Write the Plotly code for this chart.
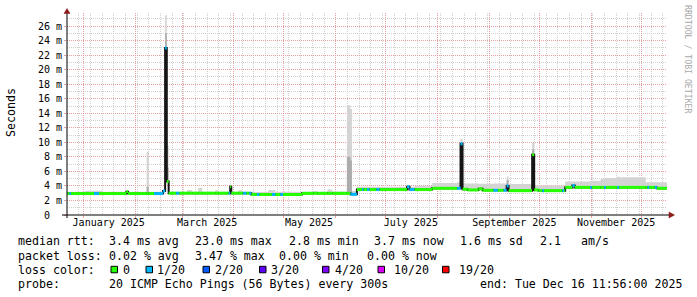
import plotly.graph_objects as go

# ---------------- data ----------------
times = [
    "2024-12-22 00:00", "2024-12-23 12:00", "2024-12-24 10:00", "2025-01-01 19:00",
    "2025-01-07 05:00", "2025-01-10 05:00", "2025-01-12 14:00", "2025-01-26 14:00",
    "2025-01-27 14:00", "2025-02-07 17:00", "2025-02-09 00:00", "2025-02-12 05:00",
    "2025-02-17 14:00", "2025-02-18 19:00", "2025-02-19 19:00", "2025-02-20 22:00",
    "2025-02-25 10:00", "2025-02-27 05:00", "2025-03-04 00:00", "2025-03-07 00:00",
    "2025-03-10 14:00", "2025-03-13 00:00", "2025-03-20 19:00", "2025-03-22 14:00",
    "2025-03-28 22:00", "2025-03-29 19:00", "2025-03-30 10:00", "2025-04-03 14:00",
    "2025-04-06 00:00", "2025-04-06 14:00", "2025-04-08 10:00", "2025-04-10 05:00",
    "2025-04-11 10:00", "2025-04-14 19:00", "2025-04-16 05:00", "2025-04-21 14:00",
    "2025-04-23 19:00", "2025-04-25 19:00", "2025-04-28 19:00", "2025-04-30 10:00",
    "2025-05-11 19:00", "2025-05-18 14:00", "2025-05-21 00:00", "2025-05-27 00:00",
    "2025-05-30 00:00", "2025-06-07 17:00", "2025-06-09 19:00", "2025-06-10 17:00",
    "2025-06-13 17:00", "2025-06-16 19:00", "2025-06-17 14:00", "2025-06-19 19:00",
    "2025-06-21 05:00", "2025-06-25 10:00", "2025-06-27 05:00", "2025-07-13 19:00",
    "2025-07-15 05:00", "2025-07-18 05:00", "2025-07-28 19:00", "2025-08-12 19:00",
    "2025-08-14 19:00", "2025-08-16 00:00", "2025-08-19 00:00", "2025-08-25 14:00",
    "2025-08-28 00:00", "2025-09-03 14:00", "2025-09-06 00:00", "2025-09-09 14:00",
    "2025-09-11 10:00", "2025-09-12 14:00", "2025-09-26 17:00", "2025-09-27 22:00",
    "2025-09-30 14:00", "2025-10-02 19:00", "2025-10-03 19:00", "2025-10-14 19:00",
    "2025-10-15 19:00", "2025-10-16 12:00", "2025-10-20 19:00", "2025-10-22 05:00",
    "2025-10-31 10:00", "2025-11-01 10:00", "2025-11-06 19:00", "2025-11-08 19:00",
    "2025-11-09 19:00", "2025-11-16 19:00", "2025-11-17 19:00", "2025-12-03 19:00",
    "2025-12-04 19:00", "2025-12-05 19:00", "2025-12-09 05:00", "2025-12-10 10:00",
]
median_ms = [
    2.95, 2.95, 2.95, 2.95, 2.95, 2.95, 2.95, 3.2,
    2.95, 2.95, 2.95, 2.95, 3.3, 23.0, 4.6, 3.0,
    3.0, 3.0, 3.0, 3.0, 3.0, 3.0, 3.0, 3.0,
    3.0, 3.9, 3.0, 3.0, 3.0, 3.0, 3.0, 3.0,
    2.82, 2.82, 2.82, 2.82, 2.82, 2.82, 2.82, 2.82,
    2.98, 2.98, 2.98, 2.98, 2.98, 2.98, 2.85, 2.85,
    3.5, 3.5, 3.5, 3.5, 3.5, 3.5, 3.5, 3.9,
    3.5, 3.5, 3.67, 3.67, 9.8, 3.55, 3.45, 3.6,
    3.4, 3.4, 3.4, 3.4, 4.0, 3.35, 8.3, 3.45,
    3.35, 3.35, 3.35, 3.35, 3.35, 3.8, 4.05, 3.8,
    3.8, 3.8, 3.8, 3.8, 3.8, 3.8, 3.8, 3.8,
    3.8, 3.8, 3.8, 3.67,
]
loss_idx = [
    0, 1, 0, 0, 1, 0, 0, 0,
    0, 0, 0, 1, 1, 1, 0, 0,
    1, 0, 0, 0, 0, 0, 0, 0,
    1, 0, 0, 0, 0, 1, 0, 1,
    0, 1, 0, 0, 1, 0, 1, 0,
    0, 0, 0, 0, 0, 0, 1, 1,
    0, 1, 0, 1, 0, 1, 0, 1,
    1, 0, 0, 1, 1, 0, 0, 0,
    0, 1, 0, 1, 1, 0, 0, 0,
    0, 1, 0, 1, 0, 0, 1, 0,
    1, 0, 0, 1, 0, 1, 0, 0,
    1, 0, 1, 0,
]
smoke_hi_ms = [
    3.2, 3.2, 3.2, 3.35, 3.35, 3.35, 3.2, 3.3,
    3.2, 8.7, 3.2, 3.2, 3.5, 27.5, 9.6, 3.2,
    3.2, 3.2, 3.45, 3.2, 3.7, 3.2, 3.4, 3.2,
    3.2, 4.1, 3.2, 3.4, 3.2, 3.2, 3.2, 3.2,
    3.15, 3.15, 3.15, 3.45, 3.45, 3.2, 3.2, 3.2,
    3.2, 3.3, 3.2, 3.5, 3.25, 15.1, 14.6, 3.3,
    3.9, 3.9, 3.9, 3.9, 3.9, 3.9, 3.9, 4.1,
    3.9, 4.0, 4.4, 4.5, 10.5, 4.35, 4.35, 4.3,
    4.3, 4.35, 4.35, 4.35, 5.3, 4.25, 9.9, 4.1,
    4.05, 4.05, 4.05, 4.05, 4.05, 4.6, 4.6, 4.6,
    4.7, 4.7, 5.0, 5.0, 5.1, 5.3, 5.2, 4.5,
    4.5, 4.5, 4.5, 4.5,
]
smoke_mid_ms = [
    2.95, 2.95, 2.95, 2.95, 2.95, 2.95, 2.95, 3.2,
    2.95, 3.9, 2.95, 2.95, 3.3, 25.0, 6.5, 3.0,
    3.0, 3.0, 3.0, 3.0, 3.0, 3.0, 3.0, 3.0,
    3.0, 3.9, 3.0, 3.0, 3.0, 3.0, 3.0, 3.0,
    2.82, 2.82, 2.82, 2.82, 2.82, 2.82, 2.82, 2.82,
    2.98, 2.98, 2.98, 2.98, 2.98, 8.0, 7.5, 2.85,
    3.5, 3.5, 3.5, 3.5, 3.5, 3.5, 3.5, 3.9,
    3.5, 3.5, 3.67, 3.67, 9.8, 3.55, 3.45, 3.6,
    3.4, 3.4, 3.4, 3.4, 4.8, 3.35, 9.0, 3.45,
    3.35, 3.35, 3.35, 3.35, 3.35, 3.8, 4.05, 3.8,
    3.8, 3.8, 3.8, 3.8, 3.8, 3.8, 3.8, 3.8,
    3.8, 3.8, 3.8, 3.67,
]
range_start = "2024-12-22 00:00"
end_time = "2025-12-16 11:56"

loss_labels = ["0", "1/20", "2/20", "3/20", "4/20", "10/20", "19/20"]
loss_colors = ["#26ff00", "#00b8ff", "#0059ff", "#5e00ff", "#7e00ff", "#dd00ff", "#ff0000"]

y_tickvals = [0, 2, 4, 6, 8, 10, 12, 14, 16, 18, 20, 22, 24, 26]
y_ticktext = ["0\u00a0\u00a0", "2 m", "4 m", "6 m", "8 m", "10 m", "12 m", "14 m",
              "16 m", "18 m", "20 m", "22 m", "24 m", "26 m"]
x_label_dates = ["2025-01-16", "2025-03-16", "2025-05-16", "2025-07-16", "2025-09-16", "2025-11-16"]
x_label_text = ["January 2025", "March 2025", "May 2025", "July 2025", "September 2025", "November 2025"]

rtt_stats = ["3.4 ms avg", "23.0 ms max", "2.8 ms min", "3.7 ms now", "1.6 ms sd", "2.1", "am/s"]
loss_stats = ["0.02 % avg", "3.47 % max", "0.00 % min", "0.00 % now"]
probe_text = "20 ICMP Echo Pings (56 Bytes) every 300s"
end_text = "end: Tue Dec 16 11:56:00 2025"

# ---------------- styling / layout helpers ----------------
W, H = 697, 297
L, R, T, B = 67, 30, 13, 82
PW, PH = W - L - R, H - T - B
MONO = "DejaVu Sans Mono"
GRID_MAJOR = "#eaa0a0"
GRID_MINOR = "#d0d0d0"
ARROW = "#8b1a1a"


def px(xp):
    return (xp - L) / PW


def py(yp):
    return (T + PH - yp) / PH


xs = times + [end_time]


def ext(vals):
    return list(vals) + [vals[-1]]


fig = go.Figure()
step = dict(width=0, shape="hv")
# smoke (light outer band)
fig.add_trace(go.Scatter(x=xs, y=ext(median_ms), mode="lines", line=step, hoverinfo="skip"))
fig.add_trace(go.Scatter(x=xs, y=ext(smoke_hi_ms), mode="lines", line=step, fill="tonexty",
                         fillcolor="#d4d4d4", hoverinfo="skip"))
# smoke (darker inner band)
fig.add_trace(go.Scatter(x=xs, y=ext(median_ms), mode="lines", line=step, hoverinfo="skip"))
fig.add_trace(go.Scatter(x=xs, y=ext(smoke_mid_ms), mode="lines", line=step, fill="tonexty",
                         fillcolor="#acacac", hoverinfo="skip"))
# black median connector line
fig.add_trace(go.Scatter(x=xs, y=ext(median_ms), mode="lines",
                         line=dict(color="#151515", width=2, shape="hv"), hoverinfo="skip"))
# coloured median segments by loss
for k, col in enumerate(loss_colors):
    sx, sy = [], []
    for i in range(len(times)):
        if loss_idx[i] == k:
            sx += [xs[i], xs[i + 1], None]
            sy += [median_ms[i], median_ms[i], None]
    if sx:
        fig.add_trace(go.Scatter(x=sx, y=sy, mode="lines", line=dict(color=col, width=3),
                                 hoverinfo="skip"))
# dummy trace for the label axis
fig.add_trace(go.Scatter(x=xs, y=ext(median_ms), xaxis="x2", mode="lines",
                         line=dict(width=0), opacity=0, hoverinfo="skip"))

fig.update_layout(
    width=W, height=H, margin=dict(l=L, r=R, t=T, b=B),
    paper_bgcolor="white", plot_bgcolor="white", showlegend=False,
    font=dict(family=MONO, size=10, color="black"),
    xaxis=dict(type="date", range=[range_start, end_time], tickmode="linear",
               dtick="M1", tick0="2025-01-01", showticklabels=False,
               showgrid=True, gridcolor=GRID_MAJOR, griddash="1px,1px", gridwidth=1,
               ticks="outside", ticklen=2, tickcolor=GRID_MAJOR,
               zeroline=False, showline=False,
               minor=dict(tickmode="linear", dtick=7 * 86400000, tick0="2024-12-22",
                          showgrid=True, gridcolor=GRID_MINOR, griddash="1px,1px",
                          ticks="")),
    xaxis2=dict(type="date", range=[range_start, end_time], overlaying="x", anchor="y",
                side="bottom", tickmode="array", tickvals=x_label_dates,
                ticktext=x_label_text, showgrid=False, ticks="", zeroline=False,
                showline=False, tickfont=dict(family=MONO, size=10, color="black")),
    yaxis=dict(range=[0, 27.8], tickmode="array", tickvals=y_tickvals, ticktext=y_ticktext,
               showgrid=True, gridcolor=GRID_MAJOR, griddash="1px,1px", gridwidth=1,
               zeroline=False, showline=False, ticks="outside", ticklen=2,
               tickcolor=GRID_MAJOR, tickfont=dict(family=MONO, size=10, color="black"),
               minor=dict(tickmode="linear", tick0=0, dtick=1, showgrid=True,
                          gridcolor=GRID_MINOR, griddash="1px,1px", ticks="")),
)

# axis lines with arrows
shapes = [
    dict(type="line", xref="paper", yref="paper", x0=px(62), x1=px(670), y0=0, y1=0,
         line=dict(color="black", width=1)),
    dict(type="line", xref="paper", yref="paper", x0=0, x1=0, y0=py(218), y1=py(11),
         line=dict(color="black", width=1)),
    dict(type="path", xref="paper", yref="paper",
         path=f"M {px(64)},{py(13.5)} L {px(70)},{py(13.5)} L {px(67)},{py(8.5)} Z",
         fillcolor=ARROW, line=dict(color=ARROW, width=0.5)),
    dict(type="path", xref="paper", yref="paper",
         path=f"M {px(669)},{py(212)} L {px(669)},{py(218)} L {px(674.5)},{py(215)} Z",
         fillcolor=ARROW, line=dict(color=ARROW, width=0.5)),
]

ann = []
LEG = 11.6


def text(x, y, s, size=LEG, color="black", angle=0, xanchor="left"):
    ann.append(dict(x=px(x), y=py(y), xref="paper", yref="paper", text=s, showarrow=False,
                    xanchor=xanchor, yanchor="middle", textangle=angle,
                    font=dict(family=MONO, size=size, color=color)))


# y title and watermark
text(11, 113, "Seconds", angle=-90, xanchor="center")
text(688, 59, "RRDTOOL / TOBI OETIKER", size=8.2, color="#aaaaaa", angle=90, xanchor="center")

# legend lines
y1, y2, y3, y4 = 241, 255.5, 269.5, 283.5
text(16, y1, "median rtt:")
for xpos, s in zip([106.7, 192.7, 286.5, 372.3, 458.3, 537.7, 579.3], rtt_stats):
    text(xpos, y1, s)
text(16, y2, "packet loss:")
for xpos, s in zip([106.7, 192.7, 276.7, 365], loss_stats):
    text(xpos, y2, s)
text(16, y3, "loss color:")
sq_x = [111, 146, 203, 259.5, 322.5, 378, 442.5]
lab_x = [121, 155.3, 213, 269.3, 332.7, 392.3, 456.7]
for sx_, lx, lab, col in zip(sq_x, lab_x, loss_labels, loss_colors):
    shapes.append(dict(type="rect", xref="paper", yref="paper", x0=px(sx_), x1=px(sx_ + 6.5),
                       y0=py(272.8), y1=py(266.3), fillcolor=col,
                       line=dict(color="black", width=1)))
    text(lx, y3, lab)
text(16, y4, "probe:")
text(107.3, y4, probe_text)
text(478.3, y4, end_text)

fig.update_layout(shapes=shapes, annotations=ann)
fig.write_html("out.html")
